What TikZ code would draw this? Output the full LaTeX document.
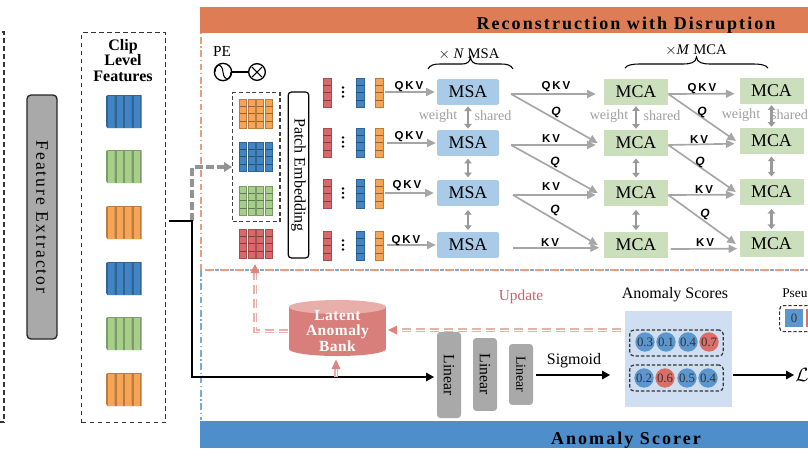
\documentclass[tikz,border=0pt]{standalone}
\usepackage{fontspec}
\setmainfont{Liberation Serif}
\newfontfamily\spaced[LetterSpace=11.5]{Liberation Serif}
\newfontfamily\spacedb[LetterSpace=3]{Liberation Serif}
\newfontfamily\helv{Liberation Sans}
\usetikzlibrary{arrows.meta,calc}
\definecolor{cBar}{HTML}{DE7C56}
\definecolor{cBlueBar}{HTML}{4E8ECB}
\definecolor{cMsa}{HTML}{A9CBE8}
\definecolor{cMca}{HTML}{CBDFBC}
\definecolor{cBlue}{HTML}{4285C4}
\definecolor{cGreen}{HTML}{A6CF8A}
\definecolor{cOrange}{HTML}{F6A455}
\definecolor{cRed}{HTML}{D9686A}
\definecolor{cGray}{HTML}{A9A9A9}
\definecolor{cArrow}{HTML}{A6A6A6}
\definecolor{cPink}{HTML}{E8B0AB}
\definecolor{cPinkHead}{HTML}{DE8480}
\definecolor{cBank}{HTML}{D97F7B}
\definecolor{cBankTop}{HTML}{E8AEAA}
\definecolor{cPanel}{HTML}{CFDEF1}
\definecolor{cDot}{HTML}{5B97CE}
\definecolor{cDotRed}{HTML}{DB6E66}
\definecolor{cUpdate}{HTML}{C8606A}
\tikzset{
  msabox/.style={fill=cMsa,rounded corners=1pt,minimum width=46.5pt,minimum height=19.2pt,inner sep=0pt,font=\fontsize{13.4}{15}\selectfont},
  mcabox/.style={fill=cMca,minimum width=48pt,minimum height=18.9pt,inner sep=0pt,font=\fontsize{13.4}{15}\selectfont},
  lin/.style={fill=cGray,rounded corners=2.5pt,inner sep=0pt,rotate=-90,font=\fontsize{11.8}{13}\selectfont},
  garrow/.style={draw=cArrow,line width=1.25pt,-{Triangle[length=6.5pt,width=6pt]}},
  shareda/.style={draw=gray!80,line width=2.2pt,{Triangle[length=3.5pt,width=5.5pt]}-{Triangle[length=3.5pt,width=5.5pt]}},
  qkv/.style={font=\helv\bfseries\fontsize{8.6}{9}\selectfont,inner sep=0pt},
  qq/.style={font=\helv\bfseries\itshape\fontsize{9}{9}\selectfont,inner sep=0pt},
  wtext/.style={text=gray!75,font=\fontsize{10.6}{12}\selectfont,inner sep=0pt},
  blackline/.style={draw=black,line width=1.5pt},
  pinkout/.style={dash pattern=on 7pt off 3.5pt,draw=cPink,line width=2.8pt},
  pinkin/.style={dash pattern=on 7pt off 3.5pt,draw=white,line width=.45pt},
  pinkhead/.style={draw=none,fill=cPinkHead},
  dashbox/.style={dash pattern=on 3.5pt off 2.5pt,draw=black!80,line width=1pt},
  score/.style={circle,fill=cDot,minimum size=14.5pt,inner sep=0pt,font=\fontsize{9.6}{10}\selectfont,text=black!80},
  scorered/.style={score,fill=cDotRed},
}
% four slabs of a clip feature
\newcommand\slabs[3]{%
  \foreach \i in {0,1,2,3}{%
    \pgfmathsetmacro\xa{#1+\i*8.5}%
    \fill[#3!75!black] (\xa,#2+1) -- (\xa+2,#2) -- (\xa+10,#2) -- (\xa+10,#2+33) -- (\xa+1.5,#2+33) -- (\xa,#2+31) -- cycle;
    \fill[#3] (\xa+2,#2+1.2) rectangle (\xa+8.6,#2+32.5);
  }}
% one segmented token column
\newcommand\tok[4]{%
  \fill[#3,draw=#3!75!black,line width=.3pt] (#1,#2) rectangle (#1+#4,#2+29);
  \draw[#3!60!black,line width=.3pt] (#1,#2+7.2) -- (#1+#4,#2+7.2) (#1,#2+14.5) -- (#1+#4,#2+14.5) (#1,#2+21.7) -- (#1+#4,#2+21.7);
}
\begin{document}
\begin{tikzpicture}[x=.75pt,y=-.75pt]
\useasboundingbox (0,0) rectangle (808,455);
\clip (0,0) rectangle (808,455);

% section bars
\node[fill=cBar,minimum width=456pt,minimum height=19.5pt,inner sep=0pt,anchor=north west] (topbar) at (200,7) {};
\node[font=\spaced\bfseries\fontsize{13.5}{15}\selectfont,inner sep=0pt] (toptext) at (626,25) {Reconstruction with Disruption};
\node[fill=cBlueBar,minimum width=456pt,minimum height=20.2pt,inner sep=0pt,anchor=north west] (botbar) at (200,421) {};
\node[font=\spaced\bfseries\fontsize{13.5}{15}\selectfont,inner sep=0pt] (bottext) at (626,440) {Anomaly Scorer};

% dividers
\draw[dash pattern=on 1pt off 2pt on 5pt off 2pt,cBar!75,line width=1pt] (201,33) -- (201,270);
\draw[dash pattern=on 5pt off 2pt on 1pt off 2pt,cBlue!70,line width=1pt] (201,270) -- (201,420);
\draw[dash pattern=on 7pt off 4.25pt,cBar!75,line width=1.1pt] (205,270) -- (808,270);
\draw[dash pattern=on 3pt off 8.25pt,cBlue!70,line width=1.1pt] (215,270) -- (808,270);

% left column
\draw[dashbox] (-6,32) -- (4,32) -- (4,422) -- (-6,422);
\node[fill=cGray,draw=black!85,line width=1pt,rounded corners=3pt,minimum width=183pt,minimum height=22.5pt,inner sep=0pt,rotate=-90,font=\spaced\fontsize{13.2}{15}\selectfont] (fe) at (42,217) {Feature Extractor};
\node[dashbox,minimum width=63pt,minimum height=292.5pt,inner sep=0pt,anchor=north west] (clipbox) at (81,32) {};
\node[font=\bfseries\fontsize{12}{11.6}\selectfont,align=center,inner sep=0pt] (cliplabel) at (123,60.5) {Clip\\Level\\Features};
\slabs{106}{95}{cBlue}
\slabs{106}{150}{cGreen}
\slabs{106}{206}{cOrange}
\slabs{106}{262}{cBlue}
\slabs{106}{317}{cGreen}
\slabs{106}{373}{cOrange}

% PE
\node[inner sep=0pt,font=\fontsize{11.5}{13}\selectfont] (pe) at (222,51) {PE};
\node[circle,draw=black,line width=1pt,minimum size=13pt,inner sep=0pt] (sine) at (223,72) {};
\node[circle,draw=black,line width=1pt,minimum size=12.5pt,inner sep=0pt] (otimes) at (257,72) {};
\draw[line width=1pt] (sine) -- (otimes);
\draw[line width=.8pt] (215,72) .. controls (216,62) and (222,63) .. (223,72) .. controls (224,81) and (230,82) .. (231,72);
\draw[line width=.8pt] (252,67) -- (262,77) (252,77) -- (262,67);

% patch stacks
\node[dash pattern=on 3pt off 2pt,draw=black!75,line width=.9pt,minimum width=35.5pt,minimum height=96.7pt,inner sep=0pt,anchor=north west] (pbox) at (232,92) {};
\foreach \yy/\cc in {99/cOrange,142/cBlue,186/cGreen,229/cRed}{
  \foreach \xx in {239.5,248,256.5,265.5}{\tok{\xx}{\yy}{\cc}{7}}
}
\node[draw=black,line width=.9pt,rounded corners=2.5pt,minimum width=124.5pt,minimum height=15.5pt,inner sep=0pt,rotate=-90,font=\fontsize{12}{14}\selectfont] (patch) at (298.5,175) {Patch Embedding};

% token columns
\foreach \yy in {78,128,179,231}{
  \tok{323}{\yy}{cRed}{8}
  \tok{356}{\yy}{cBlue}{8}
  \tok{375}{\yy}{cOrange}{8}
  \fill (343,\yy+9.5) circle (1.4) (343,\yy+14) circle (1.4) (343,\yy+18.5) circle (1.4);
}

% blocks
\foreach \n/\y in {1/92,2/143,3/193,4/245}{
  \node[msabox] (m\n) at (468,\y) {MSA};
  \node[mcabox] (c\n) at (636,\y) {MCA};
}
\foreach \n/\y in {1/91,2/141,3/192,4/244}{
  \node[mcabox] (d\n) at (771.5,\y) {MCA};
}

% inputs to MSA
\foreach \n/\s/\e in {1/385/-2,2/387/-1,3/385/-3,4/387/-1}{
  \coordinate (in\n) at (\s,0 |- m\n.west);
  \draw[garrow] (in\n) -- ([xshift=\e*.75pt]m\n.west);
}
\foreach \x/\y in {409/87,409/137,407/186,406/241}{\node[qkv] at (\x,\y) {Q\,K\,V};}

% MSA to MCA
\foreach \n/\k/\sx in {1/2/511,2/3/511,3/4/513}{
  \coordinate (s\n) at (\sx,0 |- m\n.east);
  \draw[garrow] ([yshift=-1.5pt]s\n) -- ([xshift=-6pt,yshift=-1.5pt]c\n.west);
  \draw[garrow] ([yshift=-1.5pt]s\n) -- ([xshift=-4.5pt]c\k.west);
}
\coordinate (s4) at (513,0 |- m4.east);
\draw[garrow] ([yshift=-2pt]s4) -- ([xshift=-3.5pt,yshift=-2pt]c4.west);

% MCA to MCA
\foreach \n/\k in {1/2,2/3,3/4}{
  \draw[garrow] ([yshift=-1.5pt]c\n.east) -- ([xshift=-3.5pt,yshift=-2pt]d\n.west);
  \draw[garrow] ([yshift=-1.5pt]c\n.east) -- ([xshift=-2.5pt]d\k.west);
}
\draw[garrow] ([xshift=2pt,yshift=-3pt]c4.east) -- ([xshift=-1.5pt,yshift=-3.5pt]d4.west);

% channel labels
\node[qkv] at (556,87) {Q\,K\,V};
\foreach \x/\y in {551/139,551/187,550/243,699/140,704/190,705/243}{\node[qkv] at (\x,\y) {K\,V};}
\node[qkv] at (702,89) {Q\,K\,V};
\foreach \x/\y in {556/112,555/162,555/210,702/112,700/162,705/214}{\node[qq] at (\x,\y) {Q};}

% weight sharing
\foreach \l in {m,c,d}{
  \draw[shareda] ([yshift=-1pt]\l1.south) -- ([yshift=1pt]\l2.north);
  \draw[shareda] ([yshift=-2pt]\l2.south) -- ([yshift=2pt]\l3.north);
  \draw[shareda] ([yshift=-3pt]\l3.south) -- ([yshift=1.5pt]\l4.north);
}
\foreach \x/\y in {438/116,609/116,741/115}{\node[wtext] at (\x,\y) {weight};}
\foreach \x/\y in {493/116,662/116,789.5/115}{\node[wtext] at (\x,\y) {shared};}

% braces
\node[inner sep=0pt,font=\fontsize{11}{13}\selectfont] (nlabel) at (469,54) {$\times$ \textit{N} MSA};
\node[inner sep=0pt,font=\fontsize{11}{13}\selectfont] (mlabel) at (696,50) {$\times$\textit{M} MCA};
\draw[line width=.8pt] (428,69) .. controls (430,65) and (434,64) .. (440,64) -- (462,64) .. controls (467,64) and (470,62) .. (470.5,57) .. controls (471,62) and (474,64) .. (479,64) -- (501,64) .. controls (507,64) and (511,65) .. (513,69);
\draw[line width=.8pt] (625,68) .. controls (627,65) and (632,64) .. (640,64) -- (682,64) .. controls (690,64) and (696,63) .. (696.5,57) .. controls (697,63) and (703,64) .. (711,64) -- (753,64) .. controls (761,64) and (766,65) .. (768,68);

% extractor output
\coordinate (tap) at (192,221);
\coordinate (start) at (169,221);
\coordinate (corner) at (192,377);
\coordinate (gbend) at (192,167);
\draw[dash pattern=on 6pt off 2.5pt,draw=gray!85,line width=2.4pt] (tap) -- (gbend) -- (226,167);
\fill[gray!85] (232,167) -- (224,162) -- (224,172) -- cycle;
\draw[blackline] (start) -- (tap) -- (corner) -- (428,377);
\fill[black] (434,377) -- (426,372.5) -- (426,381.5) -- cycle;

% bank
\fill[cBank] (337.5,349) ellipse (48.5 and 7);
\fill[cBank] (289,307) rectangle (386,349);
\fill[cBankTop] (337.5,307) ellipse (48.5 and 7);
\node[minimum width=72.75pt,minimum height=42pt,inner sep=0pt,text=white,font=\spacedb\bfseries\fontsize{11.6}{11.8}\selectfont,align=center] (bank) at (337.5,331) {Latent\\Anomaly\\Bank};

% pink paths
\draw[pinkout] (288,331) -- (255,331) -- (255,272);
\draw[pinkin] (288,331) -- (255,331) -- (255,272);
\fill[pinkhead] (255,264) -- (250.5,273) -- (259.5,273) -- cycle;
\draw[pinkout] (621,330) -- (396,330);
\draw[pinkin] (621,330) -- (396,330);
\fill[pinkhead] (388,330) -- (397,325.5) -- (397,334.5) -- cycle;
\draw[draw=cPink,line width=2.6pt] (336,377) -- (336,368);
\draw[draw=white,line width=.45pt] (336,376) -- (336,368);
\fill[pinkhead] (336,359.5) -- (331.5,369) -- (340.5,369) -- cycle;
\node[inner sep=0pt,text=cUpdate,font=\fontsize{11.5}{13}\selectfont] (upd) at (521,297) {Update};

% linear stack
\node[lin,minimum width=64.5pt,minimum height=18pt] (l1) at (449,375) {Linear};
\node[lin,minimum width=54.7pt,minimum height=18pt] (l2) at (485,374.5) {Linear};
\node[lin,minimum width=45.7pt,minimum height=18pt,font=\fontsize{10.4}{12}\selectfont] (l3) at (521,374.5) {Linear};
\node[inner sep=0pt,font=\fontsize{12}{14}\selectfont] (sig) at (574,361) {Sigmoid};
\coordinate (sigstart) at (536,375);
\draw[blackline] (sigstart) -- (604,375);
\fill[black] (610,375) -- (602,370.5) -- (602,379.5) -- cycle;

% scores
\node[inner sep=0pt,font=\fontsize{12}{14}\selectfont] (ast) at (675,295) {Anomaly Scores};
\node[fill=cPanel,minimum width=80pt,minimum height=72pt,inner sep=0pt,anchor=north west] (panel) at (625,311) {};
\node[dash pattern=on 2.5pt off 1.5pt,draw=black!80,line width=.9pt,rounded corners=3pt,minimum width=70pt,minimum height=19.5pt,inner sep=0pt] (r1) at (676.5,343) {};
\node[dash pattern=on 2.5pt off 1.5pt,draw=black!80,line width=.9pt,rounded corners=3pt,minimum width=70pt,minimum height=19.5pt,inner sep=0pt] (r2) at (676.5,378) {};
\node[score] (a1) at (645,342) {0.3};
\node[score] (a2) at (666,342) {0.1};
\node[score] (a3) at (688,342) {0.4};
\node[scorered] (a4) at (709,342) {0.7};
\node[score] (b1) at (644,378) {0.2};
\node[scorered] (b2) at (665,378) {0.6};
\node[score] (b3) at (687,378) {0.5};
\node[score] (b4) at (708,378) {0.4};
\coordinate (panelout) at (733,375);
\draw[blackline] (panelout) -- (788,375);
\fill[black] (794,375) -- (786,370.5) -- (786,379.5) -- cycle;
\node[inner sep=0pt,anchor=west,font=\fontsize{14}{16}\selectfont] (loss) at (795,375) {$\mathcal{L}$};

% pseudo labels
\node[inner sep=0pt,anchor=west,font=\fontsize{10}{12}\selectfont] (pseudo) at (782,293) {Pseu};
\node[dash pattern=on 2.5pt off 1.5pt,draw=black!80,line width=.9pt,rounded corners=3pt,minimum width=40pt,minimum height=19.5pt,inner sep=0pt,anchor=north west] (pbox2) at (779,305) {};
\node[fill=cDot,minimum width=14pt,minimum height=14pt,inner sep=0pt,font=\fontsize{9.6}{10}\selectfont,text=black!80] (z0) at (794,318) {0};
\fill[cDotRed] (806,308.7) rectangle (812,327.3);
\end{tikzpicture}
\end{document}
